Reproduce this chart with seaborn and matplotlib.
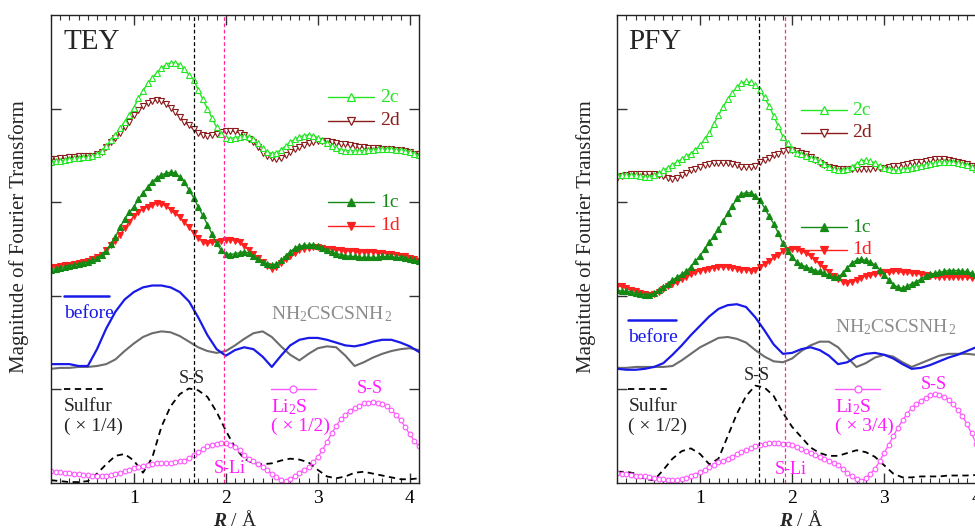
import matplotlib.pyplot as plt
import numpy as np
import seaborn as sns
from matplotlib.lines import Line2D
from matplotlib.ticker import MultipleLocator

# sampling grids (R / Angstrom)
R_FINE = np.round(np.arange(0.10, 4.1001, 0.05), 2)
R_COARSE = np.round(np.arange(0.10, 4.1001, 0.10), 2)

# ---------------- TEY panel ----------------
tey_2c = [3.43, 3.44, 3.44, 3.45, 3.46, 3.47, 3.47, 3.48, 3.48, 3.49, 3.51, 3.55, 3.60, 3.66, 3.72, 3.79,
          3.86, 3.93, 4.01, 4.11, 4.19, 4.27, 4.33, 4.38, 4.43, 4.47, 4.49, 4.49, 4.47, 4.42, 4.36, 4.31,
          4.20, 4.10, 4.00, 3.90, 3.80, 3.73, 3.69, 3.68, 3.69, 3.70, 3.71, 3.70, 3.67, 3.63, 3.58, 3.54,
          3.52, 3.53, 3.56, 3.60, 3.64, 3.67, 3.70, 3.71, 3.72, 3.71, 3.69, 3.66, 3.63, 3.60, 3.58, 3.56,
          3.55, 3.55, 3.55, 3.55, 3.55, 3.56, 3.56, 3.57, 3.57, 3.57, 3.57, 3.56, 3.56, 3.55, 3.54, 3.52, 3.50]
tey_2d = [3.46, 3.46, 3.47, 3.47, 3.48, 3.48, 3.49, 3.49, 3.49, 3.49, 3.51, 3.54, 3.59, 3.64, 3.69, 3.74,
          3.80, 3.86, 3.93, 3.98, 4.03, 4.06, 4.08, 4.09, 4.08, 4.05, 4.01, 3.96, 3.91, 3.86, 3.82, 3.78,
          3.74, 3.72, 3.71, 3.72, 3.73, 3.75, 3.76, 3.76, 3.76, 3.74, 3.72, 3.68, 3.64, 3.59, 3.53, 3.49,
          3.47, 3.46, 3.47, 3.50, 3.54, 3.57, 3.59, 3.61, 3.63, 3.64, 3.65, 3.65, 3.65, 3.64, 3.63, 3.62,
          3.62, 3.61, 3.60, 3.59, 3.59, 3.58, 3.58, 3.58, 3.57, 3.57, 3.57, 3.56, 3.56, 3.55, 3.54, 3.52, 3.51]
tey_1c = [2.28, 2.29, 2.30, 2.31, 2.32, 2.33, 2.34, 2.35, 2.36, 2.38, 2.40, 2.44, 2.48, 2.55, 2.63, 2.73,
          2.82, 2.89, 2.95, 3.03, 3.10, 3.16, 3.22, 3.26, 3.29, 3.31, 3.32, 3.31, 3.27, 3.22, 3.13, 3.05,
          2.95, 2.86, 2.76, 2.66, 2.56, 2.49, 2.45, 2.44, 2.45, 2.46, 2.47, 2.46, 2.43, 2.39, 2.36, 2.34,
          2.33, 2.34, 2.38, 2.42, 2.47, 2.51, 2.53, 2.54, 2.54, 2.54, 2.53, 2.51, 2.49, 2.47, 2.45, 2.44,
          2.43, 2.42, 2.42, 2.41, 2.41, 2.41, 2.41, 2.41, 2.42, 2.42, 2.42, 2.41, 2.41, 2.40, 2.39, 2.38, 2.37]
tey_1d = [2.31, 2.31, 2.32, 2.33, 2.33, 2.34, 2.35, 2.36, 2.37, 2.39, 2.41, 2.44, 2.49, 2.54, 2.59, 2.65,
          2.72, 2.79, 2.85, 2.90, 2.93, 2.95, 2.97, 2.99, 2.98, 2.96, 2.92, 2.88, 2.84, 2.79, 2.73, 2.67,
          2.62, 2.58, 2.56, 2.57, 2.58, 2.59, 2.60, 2.60, 2.59, 2.57, 2.53, 2.49, 2.45, 2.40, 2.36, 2.32,
          2.29, 2.31, 2.35, 2.39, 2.43, 2.46, 2.49, 2.50, 2.51, 2.52, 2.52, 2.51, 2.50, 2.50, 2.49, 2.49,
          2.48, 2.48, 2.48, 2.47, 2.47, 2.47, 2.47, 2.46, 2.46, 2.45, 2.45, 2.44, 2.43, 2.42, 2.40, 2.39, 2.37]
tey_li2s = [0.13, 0.12, 0.12, 0.11, 0.11, 0.10, 0.10, 0.09, 0.09, 0.08, 0.08, 0.08, 0.08, 0.09, 0.10, 0.11,
            0.13, 0.14, 0.16, 0.17, 0.18, 0.19, 0.20, 0.21, 0.21, 0.21, 0.21, 0.22, 0.23, 0.24, 0.27, 0.30,
            0.33, 0.36, 0.39, 0.41, 0.42, 0.43, 0.43, 0.41, 0.38, 0.35, 0.30, 0.26, 0.23, 0.20, 0.17, 0.14,
            0.10, 0.06, 0.03, 0.02, 0.04, 0.07, 0.11, 0.14, 0.17, 0.22, 0.28, 0.35, 0.44, 0.53, 0.61, 0.68,
            0.73, 0.77, 0.80, 0.82, 0.85, 0.86, 0.87, 0.86, 0.84, 0.82, 0.78, 0.73, 0.67, 0.60, 0.52, 0.45, 0.39]
tey_before = [1.27, 1.27, 1.27, 1.25, 1.25, 1.43, 1.65, 1.83, 1.96, 2.04, 2.09, 2.11, 2.11, 2.09, 2.04, 1.94,
              1.77, 1.58, 1.43, 1.36, 1.42, 1.45, 1.43, 1.35, 1.24, 1.36, 1.47, 1.53, 1.55, 1.55, 1.53, 1.50,
              1.47, 1.46, 1.48, 1.51, 1.53, 1.53, 1.50, 1.46, 1.40]
tey_nh = [1.22, 1.23, 1.23, 1.24, 1.24, 1.25, 1.27, 1.32, 1.41, 1.49, 1.56, 1.60, 1.62, 1.61, 1.57, 1.51,
          1.45, 1.41, 1.39, 1.41, 1.47, 1.54, 1.60, 1.62, 1.56, 1.46, 1.37, 1.31, 1.38, 1.44, 1.46, 1.45,
          1.36, 1.25, 1.29, 1.34, 1.38, 1.41, 1.43, 1.44, 1.42]
tey_sulfur = [0.03, 0.02, 0.01, 0.01, 0.02, 0.10, 0.20, 0.29, 0.31, 0.24, 0.11, 0.27, 0.60, 0.82, 0.95, 1.01,
              0.99, 0.92, 0.76, 0.56, 0.38, 0.26, 0.21, 0.20, 0.21, 0.24, 0.26, 0.25, 0.22, 0.14, 0.07, 0.05,
              0.07, 0.11, 0.12, 0.10, 0.08, 0.06, 0.04, 0.04, 0.05]

# ---------------- PFY panel ----------------
pfy_2c = [3.29, 3.29, 3.29, 3.29, 3.29, 3.28, 3.27, 3.27, 3.29, 3.31, 3.34, 3.37, 3.40, 3.43, 3.46, 3.49,
          3.52, 3.56, 3.61, 3.67, 3.74, 3.84, 3.93, 4.02, 4.10, 4.17, 4.23, 4.27, 4.29, 4.28, 4.25, 4.20,
          4.12, 4.03, 3.92, 3.81, 3.70, 3.63, 3.57, 3.53, 3.51, 3.49, 3.47, 3.46, 3.44, 3.41, 3.38, 3.35,
          3.34, 3.34, 3.35, 3.38, 3.41, 3.44, 3.45, 3.44, 3.42, 3.39, 3.37, 3.35, 3.34, 3.34, 3.35, 3.36,
          3.37, 3.38, 3.39, 3.40, 3.41, 3.42, 3.43, 3.43, 3.43, 3.43, 3.42, 3.41, 3.40, 3.38, 3.36, 3.34, 3.33]
pfy_2d = [3.26, 3.28, 3.29, 3.30, 3.30, 3.30, 3.30, 3.30, 3.30, 3.29, 3.28, 3.26, 3.25, 3.26, 3.29, 3.31,
          3.34, 3.36, 3.38, 3.40, 3.41, 3.42, 3.42, 3.42, 3.42, 3.41, 3.40, 3.38, 3.38, 3.38, 3.39, 3.43,
          3.45, 3.47, 3.50, 3.52, 3.55, 3.56, 3.56, 3.55, 3.53, 3.51, 3.48, 3.45, 3.42, 3.40, 3.38, 3.37,
          3.36, 3.36, 3.36, 3.36, 3.36, 3.36, 3.36, 3.36, 3.37, 3.37, 3.37, 3.38, 3.39, 3.39, 3.40, 3.41,
          3.42, 3.43, 3.43, 3.44, 3.45, 3.46, 3.46, 3.46, 3.45, 3.44, 3.43, 3.42, 3.41, 3.39, 3.37, 3.35, 3.34]
pfy_1c = [2.06, 2.05, 2.05, 2.04, 2.03, 2.02, 2.01, 2.01, 2.03, 2.06, 2.09, 2.13, 2.17, 2.20, 2.23, 2.26,
          2.31, 2.37, 2.43, 2.50, 2.57, 2.64, 2.71, 2.80, 2.88, 2.96, 3.04, 3.09, 3.10, 3.10, 3.07, 3.02,
          2.94, 2.85, 2.77, 2.67, 2.56, 2.48, 2.41, 2.36, 2.33, 2.31, 2.29, 2.27, 2.26, 2.24, 2.22, 2.20,
          2.20, 2.24, 2.30, 2.35, 2.38, 2.39, 2.38, 2.36, 2.33, 2.28, 2.22, 2.17, 2.12, 2.09, 2.08, 2.10,
          2.13, 2.15, 2.18, 2.21, 2.23, 2.24, 2.25, 2.26, 2.27, 2.27, 2.27, 2.26, 2.26, 2.24, 2.22, 2.20, 2.19]
pfy_1d = [2.11, 2.10, 2.08, 2.06, 2.05, 2.03, 2.02, 2.01, 2.02, 2.04, 2.07, 2.10, 2.13, 2.15, 2.18, 2.20,
          2.23, 2.25, 2.27, 2.28, 2.29, 2.30, 2.31, 2.31, 2.31, 2.30, 2.29, 2.28, 2.28, 2.27, 2.28, 2.31,
          2.34, 2.37, 2.41, 2.44, 2.48, 2.49, 2.50, 2.50, 2.48, 2.46, 2.42, 2.38, 2.34, 2.30, 2.25, 2.21,
          2.18, 2.15, 2.14, 2.15, 2.17, 2.19, 2.21, 2.22, 2.23, 2.24, 2.25, 2.25, 2.26, 2.26, 2.25, 2.25,
          2.24, 2.24, 2.23, 2.22, 2.21, 2.21, 2.20, 2.20, 2.20, 2.20, 2.20, 2.20, 2.20, 2.19, 2.19, 2.18, 2.18]
pfy_li2s = [0.11, 0.10, 0.10, 0.09, 0.08, 0.07, 0.07, 0.06, 0.05, 0.04, 0.04, 0.03, 0.03, 0.03, 0.04, 0.05,
            0.07, 0.09, 0.12, 0.14, 0.17, 0.19, 0.22, 0.24, 0.26, 0.28, 0.31, 0.33, 0.35, 0.37, 0.39, 0.41,
            0.42, 0.43, 0.43, 0.43, 0.42, 0.42, 0.41, 0.38, 0.36, 0.34, 0.32, 0.30, 0.28, 0.26, 0.24, 0.21,
            0.19, 0.15, 0.11, 0.07, 0.04, 0.02, 0.05, 0.10, 0.15, 0.23, 0.32, 0.41, 0.50, 0.59, 0.67, 0.74,
            0.80, 0.84, 0.88, 0.91, 0.94, 0.95, 0.94, 0.92, 0.89, 0.84, 0.78, 0.72, 0.63, 0.53, 0.42, 0.32, 0.24]
pfy_before = [1.22, 1.21, 1.21, 1.22, 1.24, 1.28, 1.37, 1.47, 1.58, 1.68, 1.78, 1.86, 1.90, 1.91, 1.88, 1.77,
              1.63, 1.48, 1.38, 1.39, 1.43, 1.45, 1.42, 1.36, 1.27, 1.29, 1.35, 1.38, 1.39, 1.37, 1.33, 1.27,
              1.22, 1.23, 1.26, 1.30, 1.34, 1.37, 1.41, 1.45, 1.47]
pfy_nh = [1.23, 1.23, 1.24, 1.24, 1.24, 1.24, 1.25, 1.31, 1.38, 1.45, 1.50, 1.55, 1.56, 1.54, 1.50, 1.42,
          1.35, 1.30, 1.29, 1.33, 1.41, 1.47, 1.51, 1.51, 1.45, 1.34, 1.24, 1.28, 1.34, 1.37, 1.35, 1.29,
          1.24, 1.28, 1.32, 1.36, 1.38, 1.38, 1.38, 1.37, 1.36]
pfy_sulfur = [0.12, 0.12, 0.10, 0.04, 0.03, 0.14, 0.26, 0.34, 0.37, 0.31, 0.20, 0.26, 0.50, 0.74, 0.93, 1.04,
              1.02, 0.93, 0.75, 0.60, 0.49, 0.38, 0.32, 0.29, 0.29, 0.32, 0.35, 0.33, 0.28, 0.19, 0.10, 0.06,
              0.06, 0.07, 0.07, 0.07, 0.08, 0.08, 0.08, 0.085, 0.09]

COL_2C = "#22e622"
COL_2D = "#8b1a1a"
COL_1C = "#148a14"
COL_1D = "#ff2020"
COL_BEFORE = "#1a1ae8"
COL_NH = "#6c6c6c"
COL_NH_TEXT = "#8c8c8c"
COL_LI = "#ff55ff"
COL_LI_TEXT = "#ff1aff"
COL_PINK_LINE = "#ff2a95"

sns.set_theme(style="ticks")
plt.rcParams.update({
    "font.family": ["Liberation Serif", "DejaVu Serif"],
    "mathtext.fontset": "custom",
    "mathtext.rm": "Liberation Serif",
    "mathtext.it": "Liberation Serif:italic:bold",
    "mathtext.bf": "Liberation Serif:bold",
    "axes.edgecolor": "#222222",
    "axes.linewidth": 1.0,
})


def draw_panel(ax, d, spec):
    tri = dict(markersize=4.5, markeredgewidth=0.8, linewidth=1.0, legend=False)
    sns.lineplot(x=R_COARSE, y=d["nh"], ax=ax, color=COL_NH, linewidth=1.5, legend=False)
    sns.lineplot(x=R_COARSE, y=d["before"], ax=ax, color=COL_BEFORE, linewidth=1.6, legend=False)
    sns.lineplot(x=R_COARSE, y=d["sulfur"], ax=ax, color="black", linewidth=1.3,
                 linestyle=(0, (3.5, 2.5)), legend=False)
    sns.lineplot(x=R_FINE, y=d["li2s"], ax=ax, color=COL_LI, marker="o", markersize=3.4,
                 markerfacecolor="white", markeredgecolor=COL_LI, markeredgewidth=0.8,
                 linewidth=0.9, legend=False)
    sns.lineplot(x=R_FINE, y=d["1d"], ax=ax, color=COL_1D, marker="v", markerfacecolor=COL_1D,
                 markeredgecolor=COL_1D, **tri)
    sns.lineplot(x=R_FINE, y=d["1c"], ax=ax, color=COL_1C, marker="^", markerfacecolor=COL_1C,
                 markeredgecolor=COL_1C, **tri)
    sns.lineplot(x=R_FINE, y=d["2d"], ax=ax, color=COL_2D, marker="v", markerfacecolor="white",
                 markeredgecolor=COL_2D, **tri)
    sns.lineplot(x=R_FINE, y=d["2c"], ax=ax, color=COL_2C, marker="^", markerfacecolor="white",
                 markeredgecolor=COL_2C, **tri)

    ax.axvline(spec["ss_line"], color="black", linestyle=(0, (3, 2)), linewidth=0.9)
    ax.axvline(spec["sli_line"], color=COL_PINK_LINE, linestyle=(0, (3, 2)), linewidth=0.9)

    ax.set_xlim(0.1, 4.1)
    ax.set_ylim(0, 5)
    ax.xaxis.set_major_locator(MultipleLocator(1))
    ax.xaxis.set_minor_locator(MultipleLocator(0.1))
    ax.set_yticks([1, 2, 3, 4])
    ax.set_yticklabels([])
    ax.tick_params(which="both", direction="in", top=True, right=True, colors="#333333",
                   labelcolor="black")
    ax.tick_params(which="major", length=7, width=1.0, labelsize=14, pad=5)
    ax.tick_params(which="minor", length=3.5, width=0.8)
    for sp in ax.spines.values():
        sp.set_visible(True)

    ax.set_xlabel("$R$ / Å", fontsize=14, va="center")
    ax.xaxis.set_label_coords(0.5, -0.079)
    ax.set_ylabel("Magnitude of Fourier Transform", fontsize=15, va="center")
    ax.yaxis.set_label_coords(spec["ylab_x"], 0.527)

    ax.text(spec["title_xy"][0], spec["title_xy"][1], spec["title"], fontsize=21,
            ha="left", va="center")

    # legend keys
    x0, x1, xt = spec["key_x"]
    keys = [("2c", COL_2C, "^", "white"), ("2d", COL_2D, "v", "white"),
            ("1c", COL_1C, "^", COL_1C), ("1d", COL_1D, "v", COL_1D)]
    for (lab, col, mk, fc), yk in zip(keys, spec["key_y"]):
        ax.add_line(Line2D([x0, x1], [yk, yk], color=col, linewidth=1.0))
        ax.add_line(Line2D([(x0 + x1) / 2], [yk], color=col, marker=mk, markersize=5.5,
                           markerfacecolor=fc, markeredgecolor=col, markeredgewidth=0.9))
        ax.text(xt, yk, lab, color=col, fontsize=14, ha="left", va="center")

    bx0, bx1 = spec["before_key"]
    ax.add_line(Line2D([bx0, bx1], [spec["before_y"], spec["before_y"]], color=COL_BEFORE,
                       linewidth=1.8))
    ax.text(bx0, spec["before_y"] - 0.19, "before", color=COL_BEFORE, fontsize=14,
            ha="left", va="center")
    ax.text(spec["nh_xy"][0], spec["nh_xy"][1], "NH$_2$CSCSNH$_{\\,2}$", color=COL_NH_TEXT,
            fontsize=14, ha="left", va="center")

    sx0, sx1 = spec["sulfur_key"]
    ax.add_line(Line2D([sx0, sx1], [1.0, 1.0], color="black", linewidth=1.3,
                       linestyle=(0, (3.5, 2.5))))
    ax.text(sx0, 0.815, "Sulfur", fontsize=14, ha="left", va="center")
    ax.text(sx0, 0.61, spec["sulfur_scale"], fontsize=14, ha="left", va="center")

    lx0, lx1 = spec["li_key"]
    ax.add_line(Line2D([lx0, lx1], [1.0, 1.0], color=COL_LI, linewidth=1.0))
    ax.add_line(Line2D([(lx0 + lx1) / 2], [1.0], marker="o", markersize=5, color=COL_LI,
                       markerfacecolor="white", markeredgewidth=0.9))
    ax.text(lx0, 0.815, "Li$_2$S", color=COL_LI_TEXT, fontsize=14, ha="left", va="center")
    ax.text(lx0, 0.61, spec["li_scale"], color=COL_LI_TEXT, fontsize=14, ha="left", va="center")

    ax.text(spec["ss_xy"][0], spec["ss_xy"][1], "S-S", fontsize=13, ha="center", va="center")
    ax.text(spec["ss2_xy"][0], spec["ss2_xy"][1], "S-S", color=COL_LI_TEXT, fontsize=13,
            ha="center", va="center")
    ax.text(spec["sli_xy"][0], spec["sli_xy"][1], "S-Li", color=COL_LI_TEXT, fontsize=13,
            ha="center", va="center")


fig = plt.figure(figsize=(9.75, 5.29), dpi=100)
ax_l = fig.add_axes([51 / 975, 46 / 529, 368 / 975, 468 / 529])
ax_r = fig.add_axes([617.3 / 975, 46 / 529, 368 / 975, 468 / 529])

tey = {"2c": tey_2c, "2d": tey_2d, "1c": tey_1c, "1d": tey_1d, "li2s": tey_li2s,
       "before": tey_before, "nh": tey_nh, "sulfur": tey_sulfur}
pfy = {"2c": pfy_2c, "2d": pfy_2d, "1c": pfy_1c, "1d": pfy_1d, "li2s": pfy_li2s,
       "before": pfy_before, "nh": pfy_nh, "sulfur": pfy_sulfur}

draw_panel(ax_l, tey, {
    "title": "TEY", "title_xy": (0.24, 4.71), "ss_line": 1.65, "sli_line": 1.98,
    "ylab_x": -0.088,
    "key_x": (3.11, 3.61, 3.68), "key_y": (4.12, 3.87, 3.00, 2.75),
    "before_key": (0.24, 0.73), "before_y": 2.0, "nh_xy": (2.49, 1.80),
    "sulfur_key": (0.24, 0.69), "sulfur_scale": "( × 1/4)",
    "li_key": (2.49, 2.98), "li_scale": "( × 1/2)",
    "ss_xy": (1.63, 1.12), "ss2_xy": (3.57, 1.01), "sli_xy": (2.04, 0.15),
})
draw_panel(ax_r, pfy, {
    "title": "PFY", "title_xy": (0.22, 4.71), "ss_line": 1.64, "sli_line": 1.92,
    "ylab_x": -0.085,
    "key_x": (2.10, 2.60, 2.65), "key_y": (3.985, 3.74, 2.73, 2.49),
    "before_key": (0.22, 0.74), "before_y": 1.74, "nh_xy": (2.47, 1.67),
    "sulfur_key": (0.22, 0.68), "sulfur_scale": "( × 1/2)",
    "li_key": (2.47, 2.96), "li_scale": "( × 3/4)",
    "ss_xy": (1.62, 1.15), "ss2_xy": (3.54, 1.05), "sli_xy": (1.98, 0.14),
})

fig.savefig("out.png", dpi=100)
